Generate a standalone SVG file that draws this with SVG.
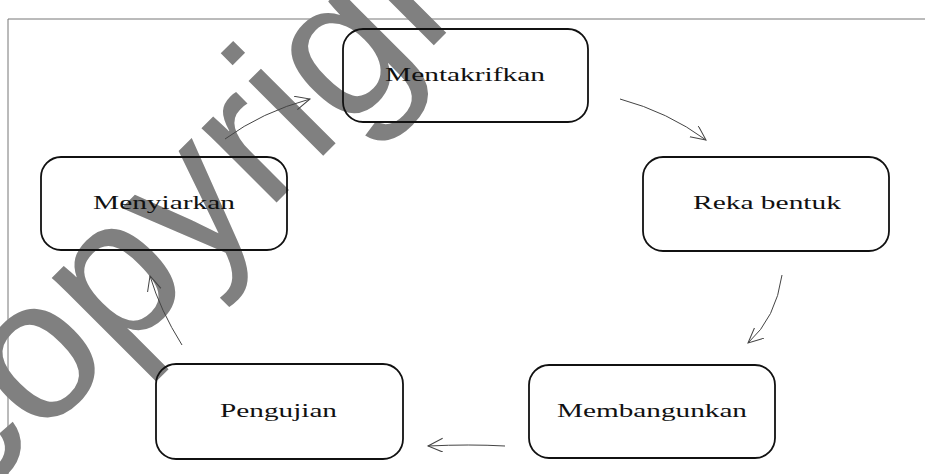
<svg xmlns="http://www.w3.org/2000/svg" width="925" height="474" viewBox="0 0 925 474">
<style>
.box{fill:none;stroke:#111;stroke-width:1.8}
.lbl{font-family:"Liberation Serif","Times New Roman",serif;font-size:19.5px;fill:#111;text-anchor:start}
.con{fill:none;stroke:#444;stroke-width:1}
.wm{font-family:"Liberation Sans",Arial,sans-serif;font-size:200px;fill:#808080}
</style>
<defs>
<marker id="ah" markerUnits="userSpaceOnUse" markerWidth="18" markerHeight="16" refX="15" refY="7" orient="auto">
<path d="M0,0 L15,7 L0,14" fill="none" stroke="#444" stroke-width="1"/>
</marker>
</defs>
<rect width="925" height="474" fill="#fff"/>
<g id="frame"><path d="M8,474 V19 H925" fill="none" stroke="#777" stroke-width="1"/></g>
<g id="watermark"><text class="wm" transform="translate(-32,511) rotate(-45)">copyright</text></g>
<g id="connectors">
<path class="con" d="M620,99 Q668,112 706,140" marker-end="url(#ah)"/>
<path class="con" d="M782,275 Q776,318 748,343" marker-end="url(#ah)"/>
<path class="con" d="M505,446 Q470,444 428,446" marker-end="url(#ah)"/>
<path class="con" d="M182,345 Q160,310 150,276" marker-end="url(#ah)"/>
<path class="con" d="M225,139 Q262,112 310,99" marker-end="url(#ah)"/>
</g>
<g id="n1"><rect class="box" x="343" y="29" width="245" height="93" rx="20"/><text class="lbl" x="385" y="81" textLength="160" lengthAdjust="spacingAndGlyphs">Mentakrifkan</text></g>
<g id="n2"><rect class="box" x="643" y="157" width="246" height="94" rx="20"/><text class="lbl" x="693" y="209" textLength="148" lengthAdjust="spacingAndGlyphs">Reka bentuk</text></g>
<g id="n3"><rect class="box" x="529" y="365" width="246" height="93" rx="20"/><text class="lbl" x="557" y="417" textLength="190" lengthAdjust="spacingAndGlyphs">Membangunkan</text></g>
<g id="n4"><rect class="box" x="156" y="364" width="247" height="95" rx="20"/><text class="lbl" x="220" y="417" textLength="117" lengthAdjust="spacingAndGlyphs">Pengujian</text></g>
<g id="n5"><rect class="box" x="41" y="157" width="246" height="93" rx="20"/><text class="lbl" x="93" y="209" textLength="142" lengthAdjust="spacingAndGlyphs">Menyiarkan</text></g>
</svg>
